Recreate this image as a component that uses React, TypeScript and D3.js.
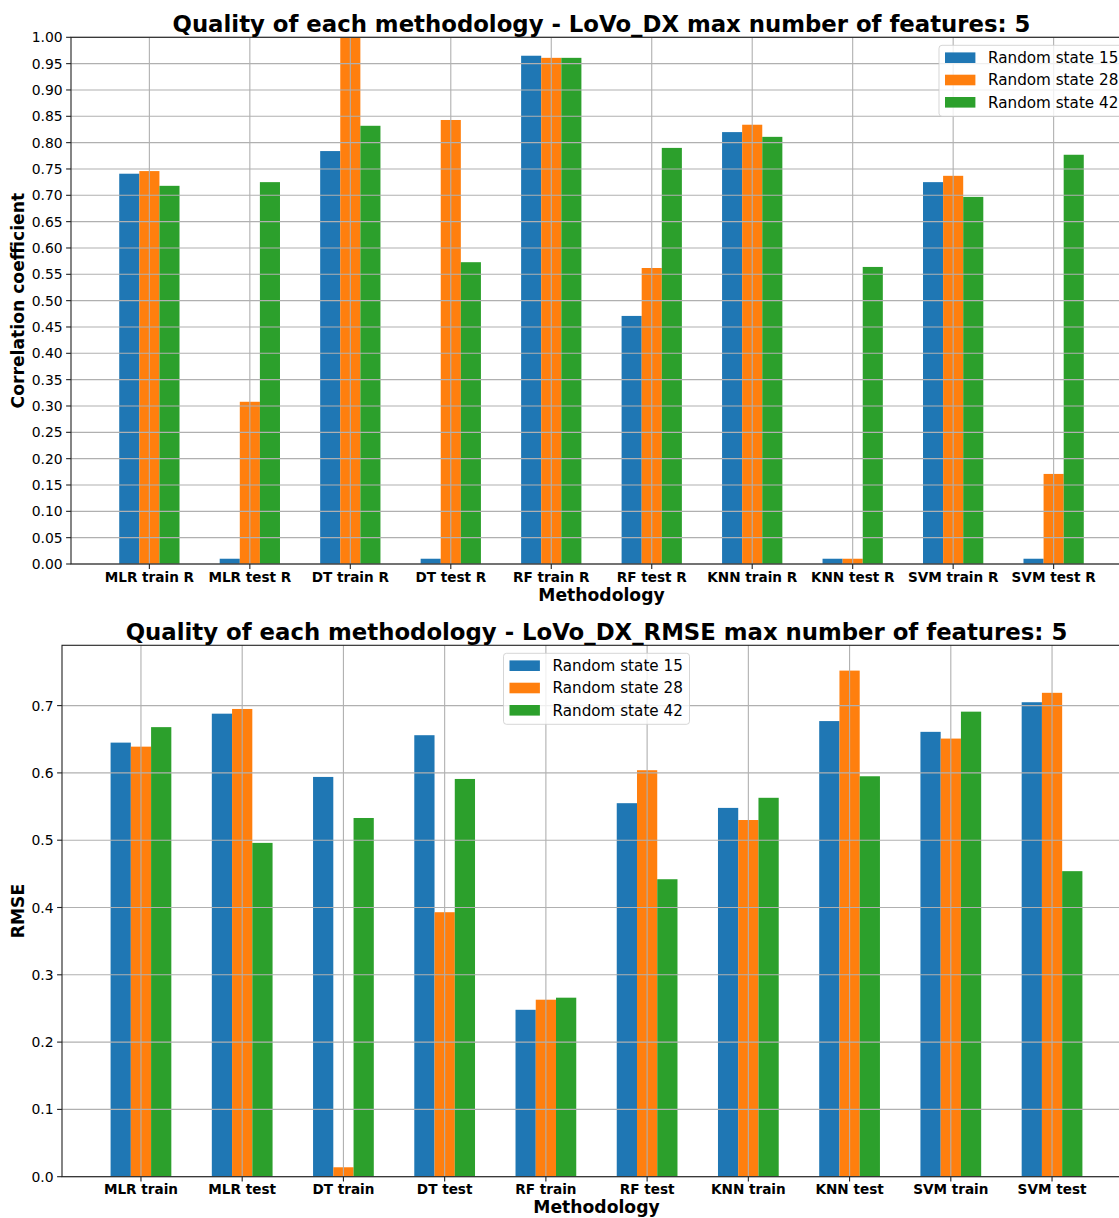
import { useEffect, useRef } from "react";
import * as d3 from "d3";

const categoriesR = [
  "MLR train R", "MLR test R", "DT train R", "DT test R", "RF train R",
  "RF test R", "KNN train R", "KNN test R", "SVM train R", "SVM test R",
];
const r15 = [0.741, 0.01, 0.784, 0.01, 0.965, 0.471, 0.82, 0.01, 0.725, 0.01];
const r28 = [0.746, 0.308, 1.0, 0.843, 0.961, 0.562, 0.834, 0.01, 0.737, 0.171];
const r42 = [0.718, 0.725, 0.832, 0.573, 0.961, 0.79, 0.811, 0.564, 0.697, 0.777];
const ticksR = [0, 0.05, 0.1, 0.15, 0.2, 0.25, 0.3, 0.35, 0.4, 0.45, 0.5, 0.55, 0.6, 0.65, 0.7, 0.75, 0.8, 0.85, 0.9, 0.95, 1.0];

const categoriesRmse = [
  "MLR train", "MLR test", "DT train", "DT test", "RF train",
  "RF test", "KNN train", "KNN test", "SVM train", "SVM test",
];
const rmse15 = [0.645, 0.688, 0.594, 0.656, 0.248, 0.555, 0.548, 0.677, 0.661, 0.705];
const rmse28 = [0.639, 0.695, 0.014, 0.393, 0.263, 0.604, 0.53, 0.752, 0.651, 0.719];
const rmse42 = [0.668, 0.496, 0.533, 0.591, 0.266, 0.442, 0.563, 0.595, 0.691, 0.454];
const ticksRmse = [0, 0.1, 0.2, 0.3, 0.4, 0.5, 0.6, 0.7];

const seriesNames = ["Random state 15", "Random state 28", "Random state 42"];
const colors = ["#1f77b4", "#ff7f0e", "#2ca02c"];

const FONT = "DejaVu Sans";

function drawPanel(svg, p) {
  const { left, right, top, bottom } = p.frame;
  const g = svg.append("g");
  const x = d3.scaleLinear().domain([-0.78, 9.78]).range([left, right]);
  const y = d3.scaleLinear().domain([0, p.yMax]).range([bottom, top]);
  const bw = x(0.2) - x(0);

  // bars
  p.series.forEach((vals, k) => {
    g.selectAll(null)
      .data(vals)
      .enter()
      .append("rect")
      .attr("x", (_, i) => x(i + (k - 1) * 0.2 - 0.1))
      .attr("width", bw)
      .attr("y", (d) => y(Math.min(d, p.yMax)))
      .attr("height", (d) => bottom - y(Math.min(d, p.yMax)))
      .attr("fill", colors[k]);
  });

  // grid on top of bars
  g.selectAll(null)
    .data(p.cats)
    .enter()
    .append("line")
    .attr("x1", (_, i) => x(i))
    .attr("x2", (_, i) => x(i))
    .attr("y1", top)
    .attr("y2", bottom)
    .attr("stroke", "#b0b0b0")
    .attr("stroke-width", 1.1);
  g.selectAll(null)
    .data(p.ticks)
    .enter()
    .append("line")
    .attr("x1", left)
    .attr("x2", right)
    .attr("y1", (d) => y(d))
    .attr("y2", (d) => y(d))
    .attr("stroke", "#b0b0b0")
    .attr("stroke-width", 1.1);

  // spines
  g.append("rect")
    .attr("x", left)
    .attr("y", top)
    .attr("width", right - left)
    .attr("height", bottom - top)
    .attr("fill", "none")
    .attr("stroke", "#222")
    .attr("stroke-width", 1.1);

  // y ticks
  const yt = g.selectAll(null).data(p.ticks).enter().append("g");
  yt.append("line")
    .attr("x1", left - 4.9)
    .attr("x2", left)
    .attr("y1", (d) => y(d))
    .attr("y2", (d) => y(d))
    .attr("stroke", "#222")
    .attr("stroke-width", 1.1);
  yt.append("text")
    .attr("x", left - 8.4)
    .attr("y", (d) => y(d) + 5)
    .attr("text-anchor", "end")
    .style("font-family", FONT)
    .style("font-size", "13.9px")
    .text((d) => d3.format(p.fmt)(d));

  // x ticks
  const xt = g.selectAll(null).data(p.cats).enter().append("g");
  xt.append("line")
    .attr("x1", (_, i) => x(i))
    .attr("x2", (_, i) => x(i))
    .attr("y1", bottom)
    .attr("y2", bottom + 4.9)
    .attr("stroke", "#222")
    .attr("stroke-width", 1.1);
  xt.append("text")
    .attr("x", (_, i) => x(i))
    .attr("y", bottom + 17.5)
    .attr("text-anchor", "middle")
    .style("font-family", FONT)
    .style("font-size", "13.6px")
    .style("font-weight", "bold")
    .text((d) => d);

  const cx = (left + right) / 2;
  // title
  g.append("text")
    .attr("x", cx)
    .attr("y", top - 5.5)
    .attr("text-anchor", "middle")
    .style("font-family", FONT)
    .style("font-size", "22.8px")
    .style("font-weight", "bold")
    .text(p.title);
  // x label
  g.append("text")
    .attr("x", cx)
    .attr("y", bottom + 36.5)
    .attr("text-anchor", "middle")
    .style("font-family", FONT)
    .style("font-size", "17.2px")
    .style("font-weight", "bold")
    .text("Methodology");
  // y label
  g.append("text")
    .attr("transform", `translate(24,${(top + bottom) / 2}) rotate(-90)`)
    .attr("text-anchor", "middle")
    .style("font-family", FONT)
    .style("font-size", "17.2px")
    .style("font-weight", "bold")
    .text(p.ylabel);

  // legend
  const lw = 186;
  const lh = 71;
  const bx = p.legend === "right" ? right - 7 - lw : cx - lw / 2;
  const by = top + 8;
  const lg = g.append("g").attr("transform", `translate(${bx},${by})`);
  lg.append("rect")
    .attr("width", lw)
    .attr("height", lh)
    .attr("rx", 3)
    .attr("fill", "white")
    .attr("fill-opacity", 0.8)
    .attr("stroke", "#cccccc")
    .attr("stroke-opacity", 0.8);
  const items = lg.selectAll(null).data(seriesNames).enter().append("g")
    .attr("transform", (_, k) => `translate(0,${12.4 + 22.3 * k})`);
  items.append("rect")
    .attr("x", 6)
    .attr("y", -5.3)
    .attr("width", 30.4)
    .attr("height", 10.6)
    .attr("fill", (_, k) => colors[k]);
  items.append("text")
    .attr("x", 49)
    .attr("y", 5.4)
    .style("font-family", FONT)
    .style("font-size", "15.2px")
    .text((d) => d);
}

export default function App() {
  const ref = useRef(null);

  useEffect(() => {
    const svg = d3.select(ref.current);
    svg.selectAll("*").remove();

    drawPanel(svg, {
      frame: { left: 71, right: 1132, top: 37.3, bottom: 564 },
      cats: categoriesR,
      series: [r15, r28, r42],
      ticks: ticksR,
      fmt: ".2f",
      yMax: 1.0,
      title: "Quality of each methodology - LoVo_DX max number of features: 5",
      ylabel: "Correlation coefficient",
      legend: "right",
    });

    drawPanel(svg, {
      frame: { left: 62, right: 1131, top: 645.3, bottom: 1176.7 },
      cats: categoriesRmse,
      series: [rmse15, rmse28, rmse42],
      ticks: ticksRmse,
      fmt: ".1f",
      yMax: 0.7896,
      title: "Quality of each methodology - LoVo_DX_RMSE max number of features: 5",
      ylabel: "RMSE",
      legend: "center",
    });
  }, []);

  return (
    <svg
      ref={ref}
      width={1119}
      height={1218}
      style={{ position: "absolute", left: 0, top: 0, background: "white" }}
    />
  );
}
